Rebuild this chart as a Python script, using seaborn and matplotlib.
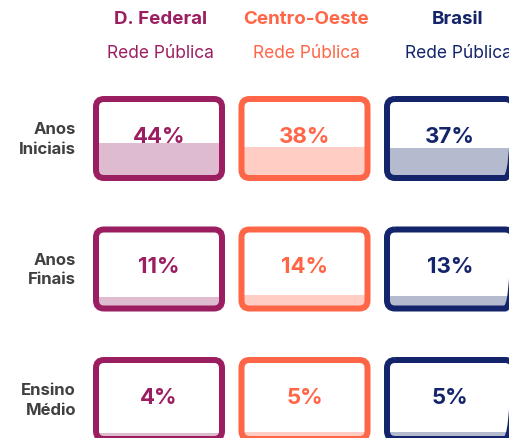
import numpy as np
import matplotlib
matplotlib.use("Agg")
import matplotlib.pyplot as plt
from matplotlib.patches import FancyBboxPatch
import seaborn as sns

# Data
regions = ['D. Federal', 'Centro-Oeste', 'Brasil']
subtitle = 'Rede Pública'
stages = ['Anos\nIniciais', 'Anos\nFinais', 'Ensino\nMédio']
pct_df = [44, 11, 4]
pct_co = [38, 14, 5]
pct_br = [37, 13, 5]

# Styles
main_colors = ['#9b1f60', '#ff6547', '#13246b']
light_colors = ['#debbce', '#ffcdc3', '#b4bbcf']
label_color = '#404040'

sns.set_theme(style='white')
plt.rcParams['font.family'] = ['Inter', 'DejaVu Sans']

fig = plt.figure(figsize=(5.10, 4.39), dpi=100)
ax = fig.add_axes([0, 0, 1, 1])
ax.set_xlim(0, 510)
ax.set_ylim(439, 0)
ax.axis('off')

# layout in pixels
col_left = 93
col_step = 145.5
row_top = 97
row_step = 130.5
box_w = 132
box_h = 85
border = 6
header_shift = [1.5, 1.5, 8]

values = [pct_df, pct_co, pct_br]

for j, region in enumerate(regions):
    cx = col_left + j * col_step + box_w / 2
    ax.text(cx + header_shift[j], 19, region, color=main_colors[j], fontsize=13.5,
            fontweight='bold', ha='center', va='center')
    ax.text(cx + header_shift[j], 54, subtitle, color=main_colors[j], fontsize=12.5,
            ha='center', va='center')

    for i, stage in enumerate(stages):
        x0 = col_left + j * col_step + border / 2
        y0 = row_top + i * row_step + border / 2
        w = box_w - border
        h = box_h - border
        # white background, also used to clip the fill
        bg = FancyBboxPatch((x0, y0), w, h, boxstyle='round,pad=0,rounding_size=8',
                            facecolor='white', edgecolor='none', zorder=1)
        ax.add_patch(bg)
        inner_h = h - border
        fill_h = values[j][i] / 100 * inner_h + border / 2
        bars = ax.bar(x0 + w / 2, -fill_h, bottom=y0 + h, width=w,
                      color=light_colors[j], zorder=2, linewidth=0)
        for b in bars:
            b.set_clip_path(bg)
        box = FancyBboxPatch((x0, y0), w, h,
                             boxstyle='round,pad=0,rounding_size=8',
                             facecolor='none', edgecolor=main_colors[j],
                             linewidth=border * 72 / 100, zorder=3)
        ax.add_patch(box)
        ax.text(x0 + w / 2, y0 + h / 2 - 2.5, f'{values[j][i]}%',
                color=main_colors[j], fontsize=16, fontweight='bold',
                ha='center', va='center', zorder=4)

for i, stage in enumerate(stages):
    cy = row_top + i * row_step + box_h / 2
    ax.text(76, cy, stage, color=label_color, fontsize=12, fontweight='bold',
            ha='right', va='center', linespacing=1.35)

fig.savefig('out.png', dpi=100)
